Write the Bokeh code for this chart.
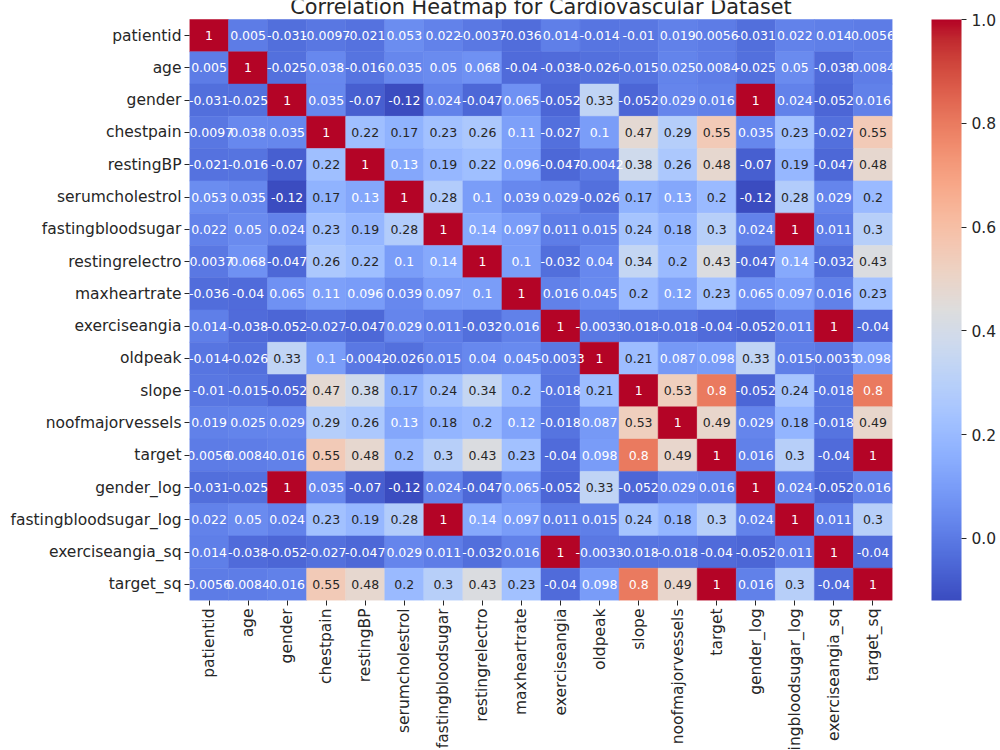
import math
from bokeh.plotting import figure
from bokeh.layouts import column
from bokeh.models import (ColumnDataSource, Range1d, FixedTicker, LinearColorMapper, ColorBar,
                          NumeralTickFormatter)
from bokeh.core.properties import value
from bokeh.embed import file_html
from bokeh.resources import INLINE

labels = ["patientid", "age", "gender", "chestpain", "restingBP", "serumcholestrol",
          "fastingbloodsugar", "restingrelectro", "maxheartrate", "exerciseangia", "oldpeak",
          "slope", "noofmajorvessels", "target", "gender_log", "fastingbloodsugar_log",
          "exerciseangia_sq", "target_sq"]

r_patientid = [1, 0.005, -0.031, -0.0097, -0.021, 0.053, 0.022, -0.0037, -0.036, 0.014, -0.014, -0.01, 0.019, 0.0056, -0.031, 0.022, 0.014, 0.0056]
r_age = [0.005, 1, -0.025, 0.038, -0.016, 0.035, 0.05, 0.068, -0.04, -0.038, -0.026, -0.015, 0.025, 0.0084, -0.025, 0.05, -0.038, 0.0084]
r_gender = [-0.031, -0.025, 1, 0.035, -0.07, -0.12, 0.024, -0.047, 0.065, -0.052, 0.33, -0.052, 0.029, 0.016, 1, 0.024, -0.052, 0.016]
r_chestpain = [-0.0097, 0.038, 0.035, 1, 0.22, 0.17, 0.23, 0.26, 0.11, -0.027, 0.1, 0.47, 0.29, 0.55, 0.035, 0.23, -0.027, 0.55]
r_restingBP = [-0.021, -0.016, -0.07, 0.22, 1, 0.13, 0.19, 0.22, 0.096, -0.047, -0.0042, 0.38, 0.26, 0.48, -0.07, 0.19, -0.047, 0.48]
r_serumcholestrol = [0.053, 0.035, -0.12, 0.17, 0.13, 1, 0.28, 0.1, 0.039, 0.029, -0.026, 0.17, 0.13, 0.2, -0.12, 0.28, 0.029, 0.2]
r_fastingbloodsugar = [0.022, 0.05, 0.024, 0.23, 0.19, 0.28, 1, 0.14, 0.097, 0.011, 0.015, 0.24, 0.18, 0.3, 0.024, 1, 0.011, 0.3]
r_restingrelectro = [-0.0037, 0.068, -0.047, 0.26, 0.22, 0.1, 0.14, 1, 0.1, -0.032, 0.04, 0.34, 0.2, 0.43, -0.047, 0.14, -0.032, 0.43]
r_maxheartrate = [-0.036, -0.04, 0.065, 0.11, 0.096, 0.039, 0.097, 0.1, 1, 0.016, 0.045, 0.2, 0.12, 0.23, 0.065, 0.097, 0.016, 0.23]
r_exerciseangia = [0.014, -0.038, -0.052, -0.027, -0.047, 0.029, 0.011, -0.032, 0.016, 1, -0.0033, -0.018, -0.018, -0.04, -0.052, 0.011, 1, -0.04]
r_oldpeak = [-0.014, -0.026, 0.33, 0.1, -0.0042, -0.026, 0.015, 0.04, 0.045, -0.0033, 1, 0.21, 0.087, 0.098, 0.33, 0.015, -0.0033, 0.098]
r_slope = [-0.01, -0.015, -0.052, 0.47, 0.38, 0.17, 0.24, 0.34, 0.2, -0.018, 0.21, 1, 0.53, 0.8, -0.052, 0.24, -0.018, 0.8]
r_noofmajorvessels = [0.019, 0.025, 0.029, 0.29, 0.26, 0.13, 0.18, 0.2, 0.12, -0.018, 0.087, 0.53, 1, 0.49, 0.029, 0.18, -0.018, 0.49]
r_target = [0.0056, 0.0084, 0.016, 0.55, 0.48, 0.2, 0.3, 0.43, 0.23, -0.04, 0.098, 0.8, 0.49, 1, 0.016, 0.3, -0.04, 1]
r_gender_log = [-0.031, -0.025, 1, 0.035, -0.07, -0.12, 0.024, -0.047, 0.065, -0.052, 0.33, -0.052, 0.029, 0.016, 1, 0.024, -0.052, 0.016]
r_fastingbloodsugar_log = [0.022, 0.05, 0.024, 0.23, 0.19, 0.28, 1, 0.14, 0.097, 0.011, 0.015, 0.24, 0.18, 0.3, 0.024, 1, 0.011, 0.3]
r_exerciseangia_sq = [0.014, -0.038, -0.052, -0.027, -0.047, 0.029, 0.011, -0.032, 0.016, 1, -0.0033, -0.018, -0.018, -0.04, -0.052, 0.011, 1, -0.04]
r_target_sq = [0.0056, 0.0084, 0.016, 0.55, 0.48, 0.2, 0.3, 0.43, 0.23, -0.04, 0.098, 0.8, 0.49, 1, 0.016, 0.3, -0.04, 1]

corr = [r_patientid, r_age, r_gender, r_chestpain, r_restingBP, r_serumcholestrol,
        r_fastingbloodsugar, r_restingrelectro, r_maxheartrate, r_exerciseangia, r_oldpeak,
        r_slope, r_noofmajorvessels, r_target, r_gender_log, r_fastingbloodsugar_log,
        r_exerciseangia_sq, r_target_sq]

colorbar_ticks = [0.0, 0.2, 0.4, 0.6, 0.8, 1.0]
title_text = "Correlation Heatmap for Cardiovascular Dataset"

# coolwarm colormap (Moreland) key colours
KEYS = [(59,76,192),(68,90,204),(77,104,215),(87,117,225),(98,130,234),(108,142,241),
        (119,154,247),(130,165,251),(141,176,254),(152,185,255),(163,194,255),(174,201,253),
        (184,208,249),(194,213,244),(204,217,238),(213,219,230),(221,221,221),(229,216,209),
        (236,211,197),(241,204,185),(245,196,173),(247,187,160),(247,177,148),(247,166,135),
        (244,154,123),(241,141,111),(236,127,99),(229,112,88),(222,96,77),(213,80,66),
        (203,62,56),(192,40,47),(180,4,38)]

def cw(t):
    t = min(max(t, 0.0), 1.0)
    f = t * (len(KEYS) - 1)
    i = min(int(f), len(KEYS) - 2)
    u = f - i
    a, b = KEYS[i], KEYS[i + 1]
    return tuple(a[k] + (b[k] - a[k]) * u for k in range(3))

N = 256
rgb_pal = [cw(i / (N - 1)) for i in range(N)]
palette = ["#%02x%02x%02x" % tuple(int(round(c)) for c in col) for col in rgb_pal]

vmin = min(min(r) for r in corr)
vmax = max(max(r) for r in corr)
mapper = LinearColorMapper(palette=palette, low=vmin, high=vmax)

def lum(col):
    out = []
    for c in col:
        c = c / 255.0
        out.append(c / 12.92 if c <= 0.03928 else ((c + 0.055) / 1.055) ** 2.4)
    return 0.2126 * out[0] + 0.7152 * out[1] + 0.0722 * out[2]

n = len(labels)
xs, ys, vs, ts, tcs = [], [], [], [], []
for i, row in enumerate(corr):
    for j, v in enumerate(row):
        xs.append(j + 0.5)
        ys.append(i + 0.5)
        vs.append(v)
        ts.append(format(v, ".2g"))
        idx = int((v - vmin) / (vmax - vmin) * N)
        idx = min(max(idx, 0), N - 1)
        tcs.append("#262626" if lum(rgb_pal[idx]) > 0.408 else "#ffffff")

src = ColumnDataSource(dict(x=xs, y=ys, v=vs, t=ts, tc=tcs))

FONT = "DejaVu Sans"
TICK_FS = "15.5px"
TXT = "#262626"

# layout (pixels)
W, LEFT, RIGHT = 1000, 189, 108
TOP_PAD, GRID_H, AX_H, LAB_H = 19, 581, 8, 142
cell_h = GRID_H / n
top_rows = TOP_PAD / cell_h

x_rng = Range1d(0, n)
p = figure(width=W, height=TOP_PAD + GRID_H + AX_H, x_range=x_rng, y_range=Range1d(n, -top_rows),
           output_backend="svg", toolbar_location=None,
           min_border_left=LEFT, min_border_right=RIGHT, min_border_top=0, min_border_bottom=AX_H)
p.outline_line_color = None
p.grid.visible = False
p.background_fill_color = "white"

p.rect("x", "y", width=1, height=1, source=src,
       fill_color={"field": "v", "transform": mapper},
       line_color={"field": "v", "transform": mapper}, line_width=0.5)
p.text("x", "y", text="t", source=src, text_color="tc", text_align="center",
       text_baseline="middle", text_font=value(FONT), text_font_size="12.5px")

# title, partly cut by the top edge as in the reference
p.text(x=[n / 2], y=[-13 / cell_h], text=[title_text], text_align="center",
       text_baseline="alphabetic", text_font=value(FONT), text_font_size="20.8px", text_color=TXT)

tick_pos = [i + 0.5 for i in range(n)]
for ax in (p.xaxis[0], p.yaxis[0]):
    ax.ticker = FixedTicker(ticks=tick_pos)
    ax.axis_line_color = None
    ax.major_tick_out = 5
    ax.major_tick_in = 0
    ax.minor_tick_out = 0
    ax.minor_tick_in = 0
    ax.major_tick_line_color = TXT
p.yaxis.major_label_overrides = {t: lab for t, lab in zip(tick_pos, labels)}
p.yaxis.major_label_text_font = FONT
p.yaxis.major_label_text_font_size = TICK_FS
p.yaxis.major_label_text_color = TXT
p.yaxis.major_label_standoff = 3
p.xaxis.major_label_overrides = {t: "" for t in tick_pos}
p.xaxis.major_label_text_font_size = "1px"
p.xaxis.major_label_standoff = 0

cb = ColorBar(color_mapper=mapper, location=(742, 0), width=30, height=GRID_H, padding=0, margin=0,
              ticker=FixedTicker(ticks=colorbar_ticks), formatter=NumeralTickFormatter(format="0.0"),
              major_tick_out=5, major_tick_in=0, major_tick_line_color=TXT,
              minor_tick_out=0, minor_tick_in=0,
              bar_line_color=None, border_line_color=None, background_fill_color=None,
              label_standoff=5, major_label_text_font=FONT, major_label_text_font_size=TICK_FS,
              major_label_text_color=TXT)
p.add_layout(cb)

# x tick labels (rotated), in a strip below the heatmap sharing its x range
q = figure(width=W, height=LAB_H, x_range=x_rng, y_range=Range1d(0, 1),
           output_backend="svg", toolbar_location=None, x_axis_location=None, y_axis_location=None,
           min_border_left=LEFT, min_border_right=RIGHT, min_border_top=0, min_border_bottom=0)
q.outline_line_color = None
q.grid.visible = False
q.text(x=tick_pos, y=[1] * n, text=labels, angle=math.pi / 2, text_align="right",
       text_baseline="middle", text_font=value(FONT), text_font_size=TICK_FS, text_color=TXT)

layout = column(p, q, spacing=0)
open("out.html", "w").write(file_html(layout, INLINE))
